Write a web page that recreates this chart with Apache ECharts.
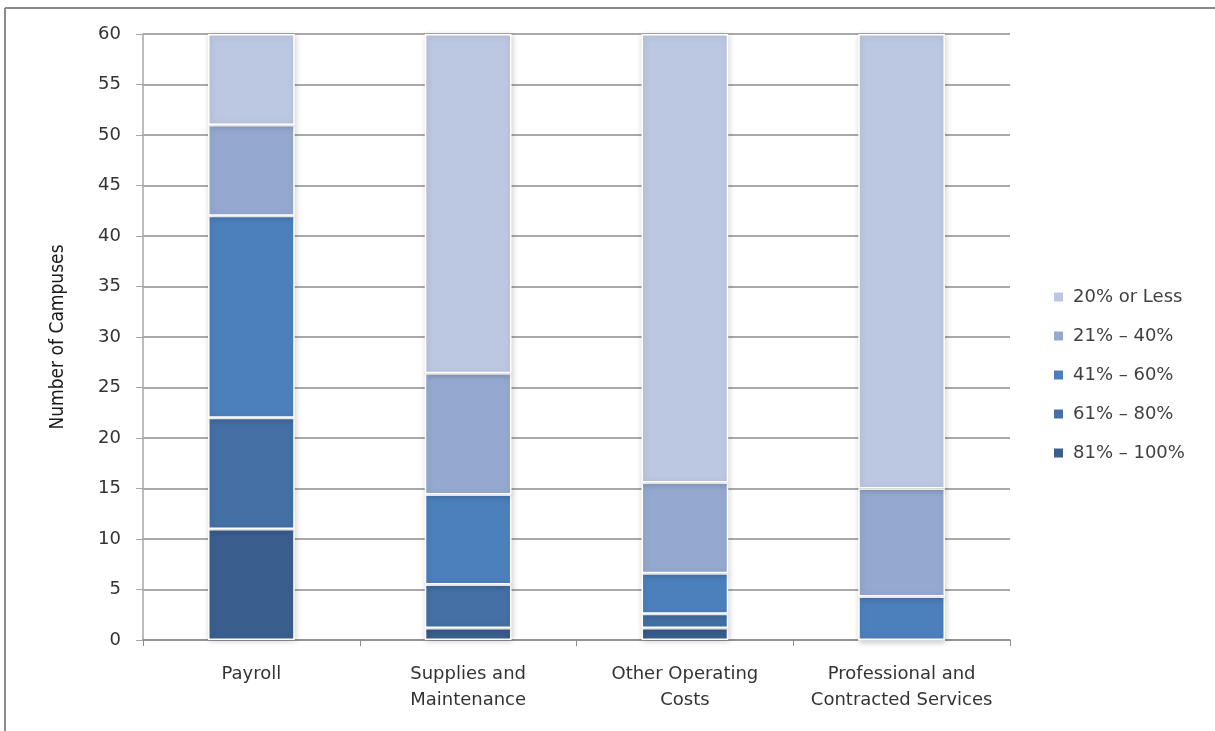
<!DOCTYPE html>
<html>
<head>
<meta charset="utf-8">
<script src="https://cdn.jsdelivr.net/npm/echarts@6/dist/echarts.min.js"></script>
<style>
  html, body { margin: 0; padding: 0; background: #fff; }
  #chart { width: 1215px; height: 731px; }
</style>
</head>
<body>
<div id="chart"></div>
<script>
// categories and stacked values (number of campuses)
const categories = ['Payroll', 'Supplies and\nMaintenance', 'Other Operating\nCosts', 'Professional and\nContracted Services'];
const bandNames = ['81% – 100%', '61% – 80%', '41% – 60%', '21% – 40%', '20% or Less'];
const band81to100 = [11, 1.2, 1.2, 0];
const band61to80 = [11, 4.3, 1.4, 0];
const band41to60 = [20, 8.9, 4.0, 4.3];
const band21to40 = [9, 12.0, 9.0, 10.7];
const band20orLess = [9, 33.6, 44.4, 45.0];
const yTicks = [0, 5, 10, 15, 20, 25, 30, 35, 40, 45, 50, 55, 60];

const bandValues = [band81to100, band61to80, band41to60, band21to40, band20orLess];
const bandColors = ['#3a5f8f', '#4470a6', '#4c80bd', '#95a9d0', '#bcc8e1'];

const chart = echarts.init(document.getElementById('chart'));

const series = bandNames.map((name, i) => ({
  name: name,
  type: 'bar',
  stack: 'total',
  barWidth: '40%',
  data: bandValues[i],
  itemStyle: {
    color: bandColors[i],
    borderColor: '#ffffff',
    borderWidth: 1.5,
    shadowColor: 'rgba(0,0,0,0.18)',
    shadowBlur: 6,
    shadowOffsetX: 1,
    shadowOffsetY: 1
  },
  emphasis: { disabled: true }
}));

chart.setOption({
  animation: false,
  backgroundColor: '#ffffff',
  graphic: [
    { type: 'line', shape: { x1: 5, y1: 8, x2: 1215, y2: 8 }, style: { stroke: '#8a8a8a', lineWidth: 2 } },
    { type: 'line', shape: { x1: 5, y1: 8, x2: 5, y2: 731 }, style: { stroke: '#8a8a8a', lineWidth: 2 } }
  ],
  grid: { left: 143, right: 205, top: 34, bottom: 91 },
  legend: {
    orient: 'vertical',
    left: 1047,
    top: 283,
    itemWidth: 11,
    itemHeight: 11,
    itemGap: 21,
    icon: 'rect',
    data: bandNames.slice().reverse(),
    textStyle: { fontFamily: 'DejaVu Sans', fontSize: 18, color: '#404040', padding: [0, 0, 0, 4] }
  },
  xAxis: {
    type: 'category',
    data: categories,
    axisLine: { lineStyle: { color: '#8c8c8c', width: 1.5 } },
    axisTick: { show: true, length: 6, interval: 0, lineStyle: { color: '#8c8c8c' } },
    axisLabel: {
      interval: 0,
      fontFamily: 'DejaVu Sans',
      fontSize: 18,
      color: '#333333',
      lineHeight: 26,
      margin: 21
    }
  },
  yAxis: {
    type: 'value',
    min: 0,
    max: 60,
    interval: 5,
    name: 'Number of Campuses',
    nameLocation: 'middle',
    nameGap: 75,
    nameRotate: 90,
    nameTextStyle: { fontFamily: 'DejaVu Sans Condensed, Liberation Sans, sans-serif', fontSize: 19, color: '#1a1a1a' },
    axisLine: { show: true, lineStyle: { color: '#a6a6a6', width: 1.5 } },
    axisTick: { show: true, length: 7, lineStyle: { color: '#a6a6a6' } },
    splitLine: { lineStyle: { color: '#8c8c8c', width: 1.5 } },
    axisLabel: {
      fontFamily: 'DejaVu Sans',
      fontSize: 18,
      color: '#333333',
      margin: 22,
      formatter: v => (yTicks.indexOf(v) >= 0 ? String(v) : '')
    }
  },
  series: series
});
</script>
</body>
</html>
